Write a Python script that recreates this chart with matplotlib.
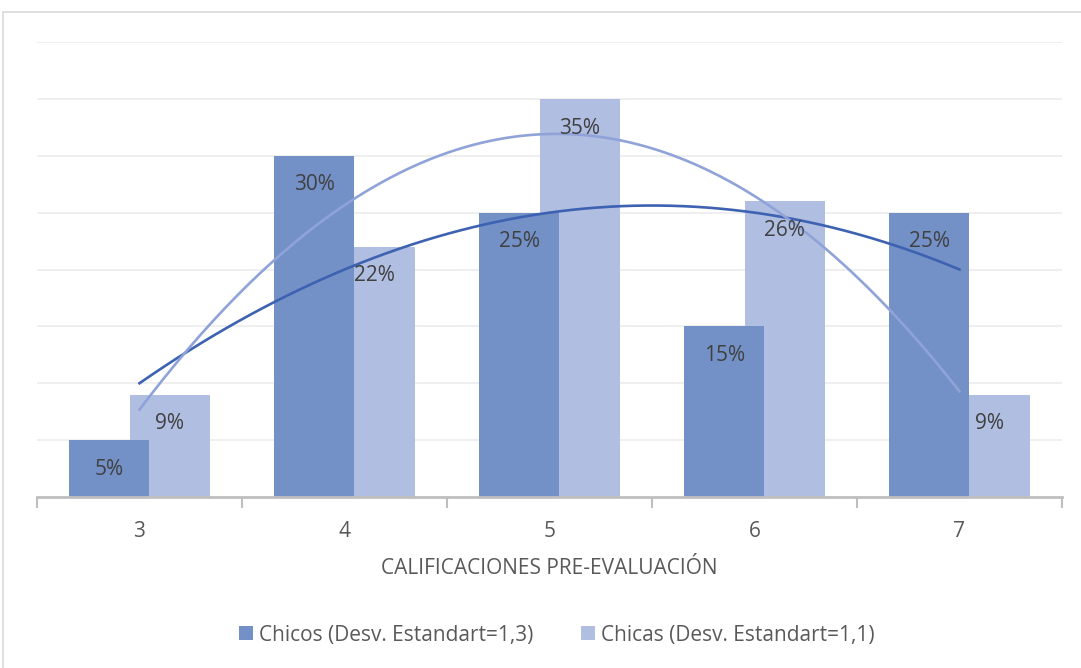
import matplotlib.pyplot as plt
import numpy as np
from matplotlib.patches import Rectangle

# datos
categorias = ['3', '4', '5', '6', '7']
chicos = [0.05, 0.30, 0.25, 0.15, 0.25]
chicas = [0.09, 0.22, 0.35, 0.26, 0.09]
nombre_chicos = 'Chicos (Desv. Estandart=1,3)'
nombre_chicas = 'Chicas (Desv. Estandart=1,1)'

c_chicos = '#7391c7'
c_chicas = '#b0bee2'
t_chicos = '#3d62b1'
t_chicas = '#8fa3d8'

plt.rcParams['font.family'] = ['Open Sans', 'DejaVu Sans']

W, H = 1081, 668
fig = plt.figure(figsize=(W / 100, H / 100), dpi=100)
# borde del grafico
fig.patches.append(Rectangle((3 / W, -0.1), 1.2, (H - 12) / H + 0.1, transform=fig.transFigure,
                             fill=False, edgecolor='#d9d9d9', linewidth=1.2))

ax = fig.add_axes([37 / W, (H - 497) / H, (1062 - 37) / W, (497 - 42) / H])
x = np.arange(len(categorias))
ancho = 0.39
d = 0.147

ax.bar(x + d, chicas, ancho, color=c_chicas, zorder=2, label=nombre_chicas)
ax.bar(x - d, chicos, ancho, color=c_chicos, zorder=3, label=nombre_chicos)

for xi, v in zip(x, chicos):
    ax.annotate(f'{v*100:.0f}%', (xi - d, v), xytext=(0, -21), textcoords='offset points',
                ha='center', va='center', fontsize=15, color='#404040', zorder=5)
for xi, v in zip(x, chicas):
    ax.annotate(f'{v*100:.0f}%', (xi + d, v), xytext=(0, -21), textcoords='offset points',
                ha='center', va='center', fontsize=15, color='#404040', zorder=5)

# lineas de tendencia (polinomica grado 2)
xx = np.linspace(0, 4, 200)
p1 = np.polyfit(x, chicos, 2)
p2 = np.polyfit(x, chicas, 2)
ax.plot(xx, np.polyval(p1, xx), color=t_chicos, lw=1.9, zorder=4)
ax.plot(xx, np.polyval(p2, xx), color=t_chicas, lw=1.9, zorder=4)

ax.set_xlim(-0.5, 4.5)
ax.set_ylim(0, 0.4)
ax.set_yticks(np.arange(0.05, 0.401, 0.05))
ax.yaxis.grid(True, color='#ececec', lw=1.2, zorder=0)
ax.tick_params(axis='y', length=0, labelleft=False)
ax.set_xticks(x)
ax.set_xticklabels(categorias)
ax.set_xticks(np.arange(-0.5, 4.6, 1), minor=True)
ax.tick_params(axis='x', which='major', length=0, labelsize=15, labelcolor='#595959', pad=17)
ax.tick_params(axis='x', which='minor', length=8, width=1.5, color='#bfbfbf')
for s in ['top', 'right', 'left']:
    ax.spines[s].set_visible(False)
ax.spines['bottom'].set_color('#bfbfbf')
ax.spines['bottom'].set_linewidth(2)
ax.spines['bottom'].set_zorder(6)
ax.set_axisbelow(True)

ax.set_xlabel('CALIFICACIONES PRE-EVALUACIÓN', fontsize=15, color='#595959', labelpad=12)

h, l = ax.get_legend_handles_labels()
fig.legend(h[::-1], l[::-1], loc='center', bbox_to_anchor=(0.515, (H - 635) / H), ncol=2,
           frameon=False, fontsize=15, labelcolor='#595959', handlelength=0.65,
           handleheight=0.65, handletextpad=0.3, columnspacing=2.3)

fig.savefig('out.png', dpi=100)
